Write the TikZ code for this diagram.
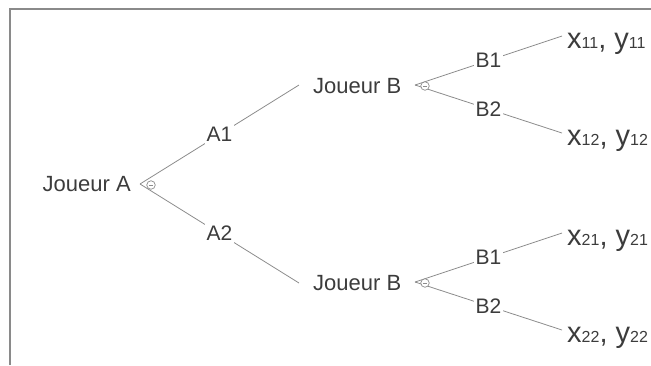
\documentclass[tikz,border=0pt]{standalone}
\usepackage{fontspec}
\setmainfont{Liberation Sans}
\definecolor{ink}{HTML}{3C3C3C}
\definecolor{wire}{HTML}{8C8C8C}
\definecolor{rim}{HTML}{8A8A8A}
% payoff pair: large x, y with small indices
\newcommand\payoffpair[2]{{\fontsize{29}{31}\selectfont x}{\fontsize{16}{18}\selectfont #1}{\fontsize{29}{31}\selectfont , y}{\fontsize{16}{18}\selectfont #2}}
\begin{document}
\begin{tikzpicture}[x=1pt,y=-1pt,
  player/.style={text=ink,font=\fontsize{22}{24}\selectfont,inner sep=0pt},
  move/.style={text=ink,font=\fontsize{21}{23}\selectfont,fill=white,inner sep=2pt},
  payoff/.style={text=ink,anchor=base west,inner sep=0pt},
  edge/.style={draw=wire,line width=0.8pt},
  toggle/.style={circle,draw=wire,fill=white,minimum size=8.5pt,inner sep=0pt,line width=0.7pt,
    path picture={\draw[wire,line width=0.6pt]
      ([xshift=-2.2pt]path picture bounding box.center) -- ([xshift=2.2pt]path picture bounding box.center);}}]
\useasboundingbox (0,0) rectangle (651,365);

% frame
\draw[rim,line width=2pt] (9.5,365) -- (9.5,9) -- (651,9);

% players
\node[player,anchor=base east] (pa) at (131,191.5) {Joueur A};
\node[player,anchor=base west] (pb1) at (313,93.5) {Joueur B};
\node[player,anchor=base west] (pb2) at (313,290.5) {Joueur B};

% branching points and edge ends
\coordinate (ta) at (140,184);
\coordinate (tb1) at (415,85);
\coordinate (tb2) at (415,282);
\coordinate (eb1) at (299,85);
\coordinate (eb2) at (299,283);
\coordinate (e11) at (562,36);
\coordinate (e12) at (562,133);
\coordinate (e21) at (562,233);
\coordinate (e22) at (562,330);

% payoffs
\node[payoff] (p11) at (567,48) {\payoffpair{11}{11}};
\node[payoff] (p12) at (567,145) {\payoffpair{12}{12}};
\node[payoff] (p21) at (567,245) {\payoffpair{21}{21}};
\node[payoff] (p22) at (567,342) {\payoffpair{22}{22}};

% moves
\draw[edge] (ta) -- node[move] (a1) {A1} (eb1);
\draw[edge] (ta) -- node[move] (a2) {A2} (eb2);
\draw[edge] (tb1) -- node[move] (b11) {B1} (e11);
\draw[edge] (tb1) -- node[move] (b12) {B2} (e12);
\draw[edge] (tb2) -- node[move] (b21) {B1} (e21);
\draw[edge] (tb2) -- node[move] (b22) {B2} (e22);

% collapse toggles
\node[toggle] (ca) at (151,185) {};
\node[toggle] (cb1) at (425,86) {};
\node[toggle] (cb2) at (425,283) {};
\end{tikzpicture}
\end{document}
